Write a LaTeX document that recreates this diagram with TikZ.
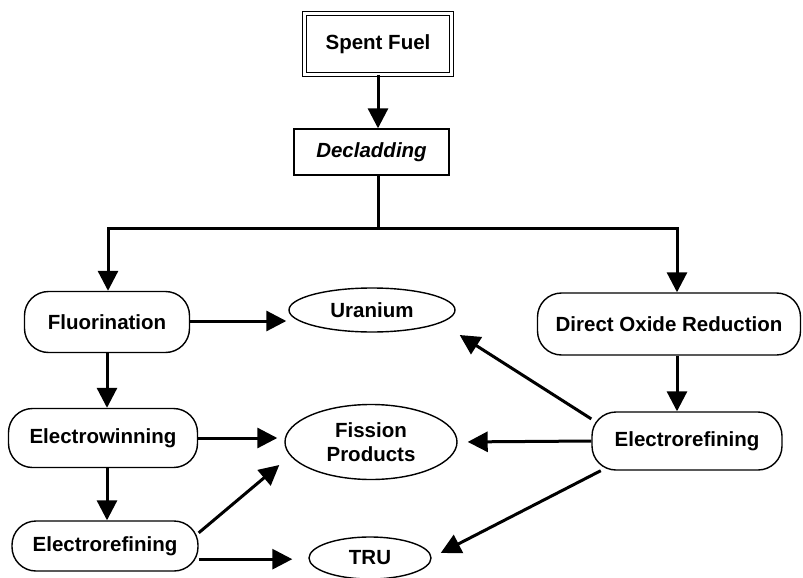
\documentclass[tikz,border=0pt]{standalone}
\usepackage{fontspec}
\setmainfont{Liberation Sans}
\usetikzlibrary{shapes.geometric,arrows.meta,calc}
\begin{document}
\begin{tikzpicture}[x=1pt,y=-1pt,
  font=\fontsize{20.5}{23.5}\selectfont\bfseries,
  proc/.style={draw,line width=1.4pt,rounded corners=24pt,inner sep=0pt,align=center},
  prod/.style={draw,ellipse,line width=1.4pt,inner sep=0pt,align=center},
  conn/.style={line width=3pt},
  arr/.style={line width=3pt,-{Triangle[length=20pt,width=20pt]}}]
\useasboundingbox (0,0) rectangle (803,578);
\node[draw,double,line width=1pt,double distance=2.5pt,minimum width=147pt,minimum height=61pt,inner sep=0pt] (spent) at (378,44) {Spent Fuel};
\node[draw,line width=1.4pt,minimum width=155pt,minimum height=46pt,inner sep=0pt,font=\fontsize{20.5}{23.5}\selectfont\bfseries\itshape] (dec) at (371.5,152) {Decladding};
\node[proc,minimum width=165pt,minimum height=61pt] (fluor) at (107,322) {Fluorination};
\node[proc,minimum width=189pt,minimum height=59pt] (ew) at (103,438) {Electrowinning};
\node[proc,minimum width=186pt,minimum height=50pt] (erL) at (105,546) {Electrorefining};
\node[proc,minimum width=263pt,minimum height=62pt] (dor) at (669,324) {Direct Oxide Reduction};
\node[proc,minimum width=190pt,minimum height=58pt] (erR) at (687,441) {Electrorefining};
\node[prod,minimum width=166pt,minimum height=44pt] (ura) at (372,310) {Uranium};
\node[prod,minimum width=172pt,minimum height=75pt] (fp) at (371,442) {Fission\\Products};
\node[prod,minimum width=122pt,minimum height=42pt] (tru) at (370,558) {TRU};
\coordinate (bar) at (378,228);
\draw[arr] (spent.south) -- (spent.south |- dec.north);
\draw[conn] (spent.south |- dec.south) -- (bar);
\draw[arr] ($(bar)+(1.5,0)$) -- ($(bar -| fluor.north)+(1,0)$) -- ($(fluor.north)+(1,0)$);
\draw[arr] ($(bar)-(1.5,0)$) -- ($(bar -| dor.north)+(8,0)$) -- ($(dor.north)+(8,0)$);
\draw[arr] ($(dor.south)+(8,0)$) -- ($(dor.south |- erR.north)+(8,0)$);
\draw[arr] (fluor.south) -- (fluor.south |- ew.north);
\draw[arr] ($(ew.south)+(4,0)$) -- ($(ew.south |- erL.north)+(4,0)$);
\draw[arr,shorten >=2pt] ($(fluor.east)+(0,-1)$) -- ($(fluor.east -| ura.west)+(0,-1)$);
\draw[arr,shorten >=7pt] (ew.east) -- (ew.east -| fp.west);
\draw[arr] (erL.8) -- ($(fp.west)+(-5,23)$);
\draw[arr] (erL.-8) -- ($(erL.-8 -| tru.west)+(-16,0)$);
\draw[arr,shorten >=10pt] (erR.west) -- (fp.east);
\draw[arr] (erR.167) -- ($(ura.east)+(4,25)$);
\draw[arr] (erR.199) -- ($(tru.east)+(9,-5)$);
\end{tikzpicture}
\end{document}
